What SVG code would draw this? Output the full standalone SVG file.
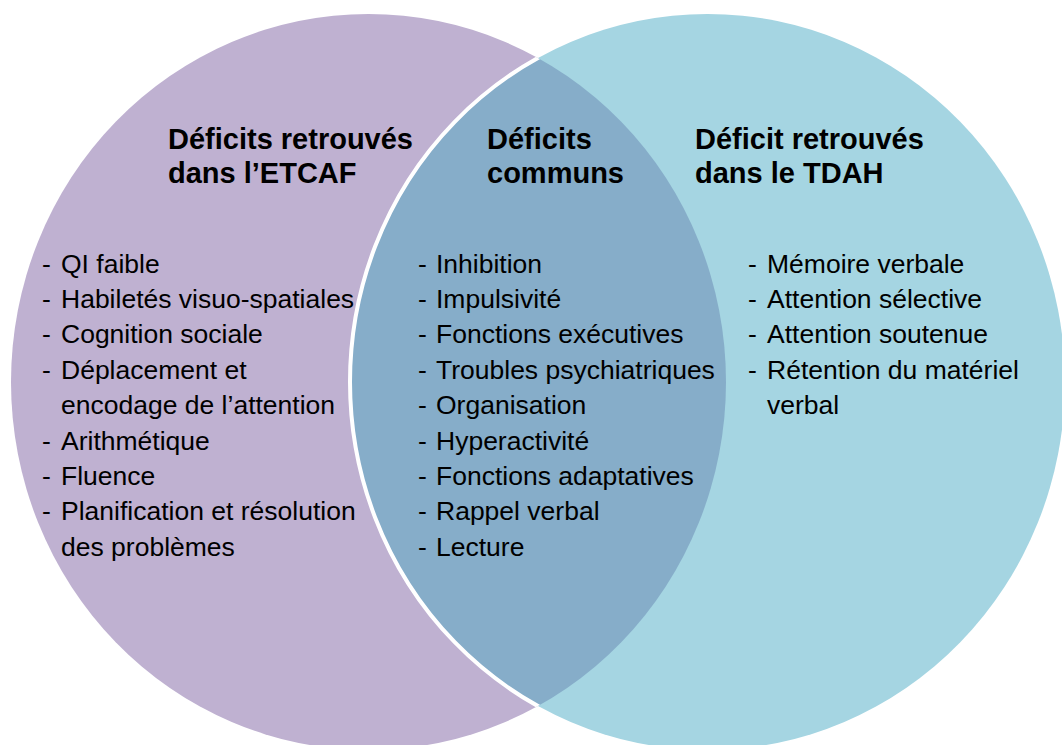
<svg xmlns="http://www.w3.org/2000/svg" width="1062" height="745" viewBox="0 0 1062 745">
<style>
text{font-family:"Liberation Sans",Arial,sans-serif;fill:#000}
.h{font-size:29px;font-weight:bold}
.t{font-size:26.5px}
</style>
<defs>
<clipPath id="clipL"><ellipse cx="368.5" cy="382" rx="357.5" ry="368"/></clipPath>
</defs>
<rect width="1062" height="745" fill="#fff"/>
<g id="circle-etcaf"><ellipse cx="368.5" cy="382" rx="357.5" ry="368" fill="#BFB1D1"/></g>
<g id="circle-tdah"><ellipse cx="707.5" cy="382" rx="357.5" ry="368" fill="#A5D5E2"/></g>
<g id="overlap">
<ellipse cx="707.5" cy="382" rx="357.5" ry="368" fill="#86ADC9" clip-path="url(#clipL)"/>
<ellipse cx="707.5" cy="382" rx="357.5" ry="368" fill="none" stroke="#fff" stroke-width="4" clip-path="url(#clipL)"/>
</g>
<g id="connectors"/>
<g id="label-etcaf">
<text class="h" x="168" y="149">Déficits retrouvés</text>
<text class="h" x="168" y="183">dans l’ETCAF</text>
<text class="t" x="42" y="272.5">-</text><text class="t" x="61" y="272.5">QI faible</text>
<text class="t" x="42" y="307.9">-</text><text class="t" x="61" y="307.9">Habiletés visuo-spatiales</text>
<text class="t" x="42" y="343.3">-</text><text class="t" x="61" y="343.3">Cognition sociale</text>
<text class="t" x="42" y="378.7">-</text><text class="t" x="61" y="378.7">Déplacement et</text>
<text class="t" x="61" y="414.1">encodage de l’attention</text>
<text class="t" x="42" y="449.5">-</text><text class="t" x="61" y="449.5">Arithmétique</text>
<text class="t" x="42" y="484.9">-</text><text class="t" x="61" y="484.9">Fluence</text>
<text class="t" x="42" y="520.3">-</text><text class="t" x="61" y="520.3">Planification et résolution</text>
<text class="t" x="61" y="555.7">des problèmes</text>
</g>
<g id="label-communs">
<text class="h" x="487" y="149">Déficits</text>
<text class="h" x="487" y="183">communs</text>
<text class="t" x="418" y="272.5">-</text><text class="t" x="436" y="272.5">Inhibition</text>
<text class="t" x="418" y="307.9">-</text><text class="t" x="436" y="307.9">Impulsivité</text>
<text class="t" x="418" y="343.3">-</text><text class="t" x="436" y="343.3">Fonctions exécutives</text>
<text class="t" x="418" y="378.7">-</text><text class="t" x="436" y="378.7">Troubles psychiatriques</text>
<text class="t" x="418" y="414.1">-</text><text class="t" x="436" y="414.1">Organisation</text>
<text class="t" x="418" y="449.5">-</text><text class="t" x="436" y="449.5">Hyperactivité</text>
<text class="t" x="418" y="484.9">-</text><text class="t" x="436" y="484.9">Fonctions adaptatives</text>
<text class="t" x="418" y="520.3">-</text><text class="t" x="436" y="520.3">Rappel verbal</text>
<text class="t" x="418" y="555.7">-</text><text class="t" x="436" y="555.7">Lecture</text>
</g>
<g id="label-tdah">
<text class="h" x="695" y="149">Déficit retrouvés</text>
<text class="h" x="695" y="183">dans le TDAH</text>
<text class="t" x="748" y="272.5">-</text><text class="t" x="767" y="272.5">Mémoire verbale</text>
<text class="t" x="748" y="307.9">-</text><text class="t" x="767" y="307.9">Attention sélective</text>
<text class="t" x="748" y="343.3">-</text><text class="t" x="767" y="343.3">Attention soutenue</text>
<text class="t" x="748" y="378.7">-</text><text class="t" x="767" y="378.7">Rétention du matériel</text>
<text class="t" x="767" y="414.1">verbal</text>
</g>
</svg>
